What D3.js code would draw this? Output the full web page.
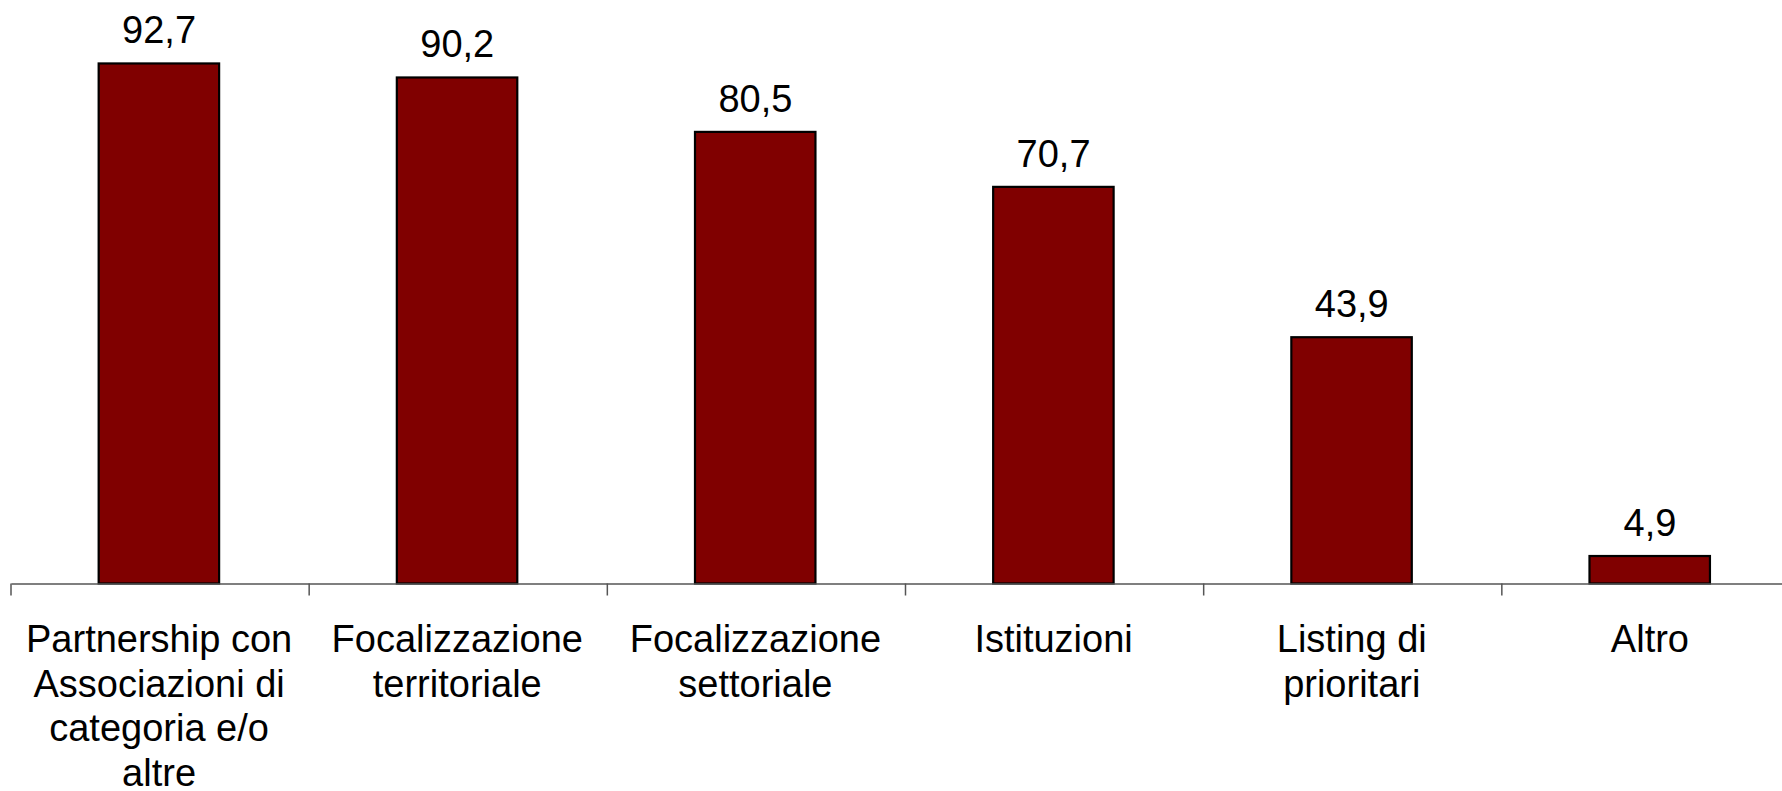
<!DOCTYPE html>
<html>
<head>
<meta charset="utf-8">
<script src="https://cdn.jsdelivr.net/npm/d3@7"></script>
<style>
  body { margin: 0; background: #fff; }
  text { font-family: "Liberation Sans", Arial, sans-serif; fill: #000; }
</style>
</head>
<body>
<div id="chart"></div>
<script>
const categories = ['Partnership con Associazioni di categoria e/o altre', 'Focalizzazione territoriale',
  'Focalizzazione settoriale', 'Istituzioni', 'Listing di prioritari', 'Altro'];
const labelLines = [
  ['Partnership con', 'Associazioni di', 'categoria e/o', 'altre'],
  ['Focalizzazione', 'territoriale'],
  ['Focalizzazione', 'settoriale'],
  ['Istituzioni'],
  ['Listing di', 'prioritari'],
  ['Altro']
];
const values = [92.7, 90.2, 80.5, 70.7, 43.9, 4.9];

let w = 1782;
let h = 791;
let axisY = 583.5;

let svg = d3.select('#chart').
append('svg').
attr('width', w).
attr('height', h);

let xScale = d3.scaleBand().
domain(categories).
range([11, 1800]);

let yScale = d3.scaleLinear().
domain([0, 100]).
range([axisY, 22.5]);

let bw = xScale.bandwidth();

// bars
svg.selectAll('rect.bar').
data(values).
enter().
append('rect').
attr('class', 'bar').
attr('x', (d, i) => xScale(categories[i]) + bw * 0.294).
attr('width', bw * 0.404).
attr('y', d => yScale(d)).
attr('height', d => axisY - yScale(d)).
attr('fill', '#800000').
attr('stroke', '#000').
attr('stroke-width', 2.2);

// value labels
svg.selectAll('text.val').
data(values).
enter().
append('text').
attr('class', 'val').
attr('x', (d, i) => xScale(categories[i]) + bw / 2 - 1).
attr('y', d => yScale(d) - 20).
attr('text-anchor', 'middle').
style('font-size', '38px').
text(d => d.toFixed(1).replace('.', ','));

// axis line
let xAxis = d3.axisBottom(xScale).tickSize(0).tickFormat('');
let axisG = svg.append('g').
attr('transform', 'translate(0,' + axisY + ')').
call(xAxis);
axisG.select('.domain').
attr('stroke', '#555').
attr('stroke-width', 1.5);

// boundary ticks between categories
axisG.selectAll('line.sep').
data(categories).
enter().
append('line').
attr('class', 'sep').
attr('x1', d => xScale(d)).
attr('x2', d => xScale(d)).
attr('y1', 0).
attr('y2', 12).
attr('stroke', '#555').
attr('stroke-width', 1.5);

// category labels
let lab = svg.selectAll('text.cat').
data(labelLines).
enter().
append('text').
attr('class', 'cat').
attr('text-anchor', 'middle').
style('font-size', '38px');

lab.selectAll('tspan').
data((d, i) => d.map(s => ({ s: s, i: i }))).
enter().
append('tspan').
attr('x', d => xScale(categories[d.i]) + bw / 2 - 1).
attr('y', (d, j) => 652 + j * 44.5).
text(d => d.s);
</script>
</body>
</html>
